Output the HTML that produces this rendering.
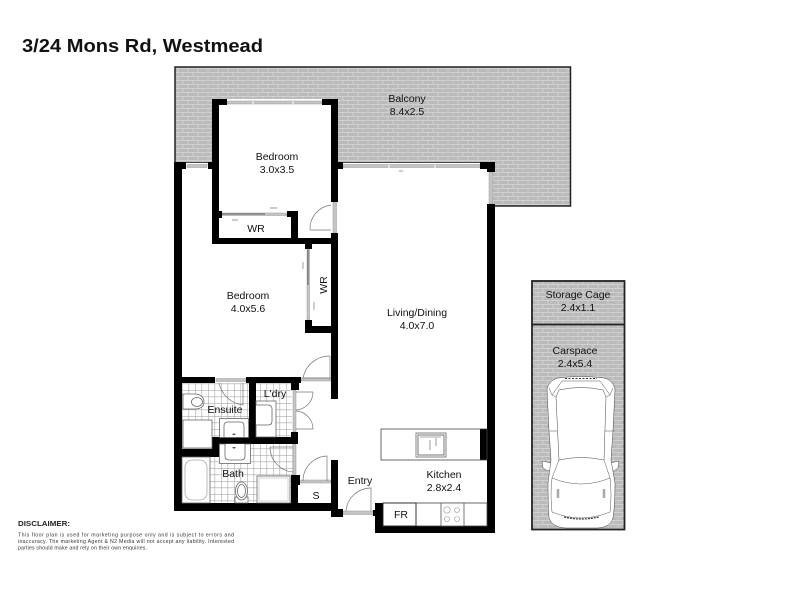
<!DOCTYPE html>
<html><head><meta charset="utf-8"><style>
html,body{margin:0;padding:0;background:#fff}
svg{display:block}
text{font-family:"Liberation Sans",sans-serif;fill:#111;font-size:10.5px;text-anchor:middle}
.d{fill:none;stroke:#777;stroke-width:.7}
.t{fill:#fff;stroke:#666;stroke-width:.8}
.g{fill:#c4c4c4;stroke:#999;stroke-width:.5}
.c{fill:#fff;stroke:#444;stroke-width:.5}
.c2{fill:none;stroke:#555;stroke-width:.5}
.l{text-anchor:start;font-size:5.2px;fill:#333}
</style></head><body>
<svg width="800" height="600" viewBox="0 0 800 600" xmlns="http://www.w3.org/2000/svg">
<defs>
<pattern id="b" width="10" height="8" patternUnits="userSpaceOnUse">
<rect width="10" height="8" fill="#bababa"/>
<path d="M0 .5H10M0 4.5H10M3 0V4M8 4V8" stroke="#d8d8d8" stroke-width=".7"/>
</pattern>
<pattern id="p" width="6.500" height="6.500" patternUnits="userSpaceOnUse">
<rect width="6.500" height="6.500" fill="#fff"/>
<path d="M0 .3H6.500M.3 0V6.500" stroke="#aaa" stroke-width=".6"/>
</pattern>
</defs>
<rect width="800" height="600" fill="#fff"/>
<text x="22" y="52" style="font-size:18.500px;font-weight:bold;text-anchor:start;fill:#111" textLength="241" lengthAdjust="spacingAndGlyphs">3/24 Mons Rd, Westmead</text>

<path d="M175 67H570.500V206H491V163H175Z" fill="url(#b)" stroke="#222" stroke-width="1.500"/>
<rect x="219" y="105" width="112" height="133" fill="#fff"/>
<rect x="182" y="163" width="306" height="6" fill="#fff"/>
<rect x="212" y="99" width="119" height="6" fill="#fff"/>
<rect x="338" y="165" width="150" height="300" fill="#fff"/>

<rect x="532" y="281" width="92.500" height="248.500" fill="url(#b)" stroke="#222" stroke-width="1.800"/>
<path d="M532 324.500H624.500" stroke="#222" stroke-width="1.800"/>

<rect x="182" y="383" width="67" height="66" fill="url(#p)"/>
<rect x="256" y="383" width="36" height="54" fill="url(#p)"/>
<rect x="210" y="444" width="83" height="59" fill="url(#p)"/>

<!-- windows -->
<g class="g">
<rect x="227" y="101" width="95" height="3"/>
<rect x="187" y="164.500" width="20" height="3"/>
<rect x="343" y="164.500" width="137" height="3"/>
<rect x="489" y="172" width="3.500" height="32"/>
<rect x="333" y="202" width="3.500" height="31"/>
<rect x="222" y="213" width="65" height="2.500"/>
<rect x="307" y="249" width="2.500" height="71"/>
<rect x="216" y="378.500" width="30" height="3"/>
<rect x="301" y="378" width="30" height="3"/>
<rect x="293" y="390" width="3" height="42"/>
<rect x="293" y="444" width="3" height="31"/>
<rect x="298" y="480" width="33" height="3"/>
<rect x="343" y="511" width="30" height="3.500"/>
</g>
<path d="M222 214H265" stroke="#444" stroke-width=".8"/>
<path d="M308 250V285" stroke="#444" stroke-width=".8"/>
<path d="M253 101V104M293 101V104M389 164.500V168M435 164.500V168" stroke="#fff" stroke-width="1"/>
<path d="M270 208H277M232 220H238M303 262V269M314 302V310M399 171H403" stroke="#777" stroke-width=".7"/>

<!-- walls -->
<g fill="#000">
<rect x="212" y="99" width="7" height="145"/>
<rect x="212" y="99" width="15" height="6"/>
<rect x="322" y="99" width="16" height="6"/>
<rect x="331" y="99" width="7" height="103"/>
<rect x="331" y="233" width="7" height="166"/>
<rect x="212" y="238" width="126" height="6"/>
<rect x="291" y="211" width="7" height="27"/>
<rect x="287" y="211" width="11" height="6"/>
<rect x="219" y="211" width="3" height="7"/>
<rect x="174" y="162" width="8" height="349"/>
<rect x="174" y="162" width="12" height="7"/>
<rect x="208" y="162" width="4" height="7"/>
<rect x="338" y="162" width="5" height="7"/>
<rect x="480" y="162" width="15" height="7"/>
<rect x="487" y="162" width="8" height="10"/>
<rect x="487" y="204" width="8" height="329"/>
<rect x="305" y="244" width="7" height="5"/>
<rect x="305" y="320" width="7" height="13"/>
<rect x="305" y="326" width="28" height="7"/>
<rect x="174" y="377" width="41" height="6"/>
<rect x="246" y="377" width="55" height="6"/>
<rect x="291" y="377" width="8" height="13"/>
<rect x="249" y="383" width="7" height="54"/>
<rect x="212" y="437" width="86" height="7"/>
<rect x="291" y="432" width="7" height="12"/>
<rect x="212" y="437" width="7" height="20"/>
<rect x="182" y="449" width="37" height="8"/>
<rect x="291" y="475" width="7" height="28"/>
<rect x="291" y="475" width="9" height="10"/>
<rect x="174" y="503" width="164" height="8"/>
<rect x="331" y="460" width="7" height="57"/>
<rect x="331" y="509" width="12" height="8"/>
<rect x="375" y="503" width="8" height="30"/>
<rect x="373" y="510" width="3" height="6"/>
<rect x="375" y="526" width="120" height="7"/>
<rect x="480" y="429" width="7" height="31"/>
</g>

<!-- doors -->
<g class="d">
<path d="M310 230H331M310 230A24 24 0 0 1 331 205"/>
<path d="M303 378H330V356M303 378A27 27 0 0 1 330 356"/>
<path d="M219 383A28 28 0 0 0 243 405V383"/>
<path d="M296 392H313M296 410A18 18 0 0 0 313 392"/>
<path d="M296 429H313M296 411A18 18 0 0 1 313 429"/>
<path d="M270 447H293M270 447A25 25 0 0 0 293 472"/>
<path d="M303 481A25 25 0 0 1 327 456V481"/>
<path d="M346 511A25 25 0 0 1 371 488V511"/>
</g>

<!-- bathroom fixtures -->
<path d="M183 394H195C201 394 204 398 204 402C204 406 201 409 195 409H183Z" class="t"/>
<ellipse cx="197" cy="402" rx="5.500" ry="4.500" class="t"/>
<rect x="183" y="420" width="29" height="28" class="t"/>
<rect x="219.500" y="418.500" width="29" height="19" class="t"/>
<path d="M224 437V426Q224 422 228 422H240Q244 422 244 426V437" class="t"/>
<path d="M234 433l-2 2h4z" fill="#555"/>
<rect x="219.500" y="444" width="31" height="19.500" class="t"/>
<path d="M225 444V456Q225 460 229 460H241Q245 460 245 456V444" class="t"/>
<path d="M234 449l-2-2h4z" fill="#555"/>
<rect x="182" y="457" width="28" height="46" class="t"/>
<rect x="185" y="460" width="22" height="40" rx="7" fill="#fff" stroke="#aaa" stroke-width=".8"/>
<rect x="235" y="497" width="13" height="6" class="t"/>
<ellipse cx="241.500" cy="491" rx="6" ry="9" class="t"/>
<ellipse cx="241.500" cy="491" rx="4" ry="6.500" class="t"/>
<rect x="257" y="476" width="33" height="27" class="t"/>
<rect x="259" y="478" width="29" height="23" fill="#fff" stroke="#aaa" stroke-width=".5"/>
<rect x="256" y="401" width="20" height="36" class="t"/>
<path d="M256 405H268Q272 405 272 409V421Q272 425 268 425H256" class="t"/>

<!-- kitchen -->
<rect x="381" y="429" width="106" height="31" fill="none" stroke="#444" stroke-width=".8"/>
<rect x="416" y="433" width="30" height="24" class="t"/>
<rect x="418" y="435" width="26" height="20" fill="#fff" stroke="#555" stroke-width=".8"/>
<path d="M420 437H441M430 440V450M436 438V446" stroke="#555" stroke-width=".6" fill="none"/>
<rect x="383" y="503" width="104" height="23" fill="#fff" stroke="#444" stroke-width=".8"/>
<rect x="383" y="503" width="33" height="23" fill="#fff" stroke="#222" stroke-width=".9"/>
<rect x="441" y="503" width="23" height="23" fill="#fff" stroke="#555" stroke-width=".8"/>
<g fill="none" stroke="#999" stroke-width=".6">
<circle cx="447" cy="510" r="3.200"/><circle cx="457" cy="510" r="2.500"/><circle cx="447" cy="519" r="2.500"/><circle cx="457" cy="519" r="2.500"/>
</g>

<!-- car -->
<g>
<path d="M542 461L552 463V470L548 471L543 468ZM619 461L610 463V470L614 471L618 468Z" class="c"/>
<path d="M558 378Q549 380 547 389L549 431L551 460L548 483Q548 505 549 518Q552 527 565 528H598Q611 527 613 518Q615 505 615 483L611 460L613 431L615 389Q613 380 604 378Q580 375 558 378Z" class="c"/>
<path d="M552 395L562 381H600L610 395M552 395L549 388M610 395L613 388" class="c2"/>
<path d="M559 390Q581 385 603 390L606 397L604 460Q581 455 559 460L556 397Z" class="c"/>
<path d="M556 397L552 395M606 397L610 395M559 460L552 478Q581 490 610 478L604 460" class="c2"/>
<path d="M552 478Q550 495 552 512Q581 524 610 512Q612 495 610 478M549 431H557M605 431H614" class="c2"/>
<path d="M558 489V498M604 489V498" stroke="#555" stroke-width="2.500" fill="none" opacity=".5"/>
<path d="M564 517Q581 521 599 517" stroke="#333" stroke-width="1.200" stroke-dasharray="2 1" fill="none"/>
<path d="M565 378.500H597" stroke="#333" stroke-width="1" stroke-dasharray="2 1.500" fill="none"/>
</g>

<!-- labels -->
<text x="407" y="102">Balcony</text><text x="407" y="115">8.4x2.5</text>
<text x="277" y="160">Bedroom</text><text x="277" y="173">3.0x3.5</text>
<text x="256" y="232">WR</text>
<text x="248" y="299">Bedroom</text><text x="248" y="312">4.0x5.6</text>
<text transform="translate(327,285) rotate(-90)">WR</text>
<text x="417" y="316">Living/Dining</text><text x="417" y="329">4.0x7.0</text>
<text x="578" y="298">Storage Cage</text><text x="578" y="311">2.4x1.1</text>
<text x="575" y="354">Carspace</text><text x="575" y="367">2.4x5.4</text>
<text x="225" y="413">Ensuite</text>
<text x="275" y="397">L'dry</text>
<text x="233" y="477">Bath</text>
<text x="316" y="499">S</text>
<text x="360" y="484">Entry</text>
<text x="444" y="478">Kitchen</text><text x="444" y="491">2.8x2.4</text>
<text x="401" y="518">FR</text>

<text x="18" y="526" style="font-size:7px;font-weight:bold;text-anchor:start;fill:#222" textLength="52" lengthAdjust="spacingAndGlyphs">DISCLAIMER:</text>
<text class="l" x="18" y="536.500" textLength="216" lengthAdjust="spacing">This floor plan is used for marketing purpose only and is subject to errors and</text>
<text class="l" x="18" y="543" textLength="216" lengthAdjust="spacing">inaccuracy. The marketing Agent &amp; N2 Media will not accept any liability. Interested</text>
<text class="l" x="18" y="549.500" textLength="129" lengthAdjust="spacing">parties should make and rely on their own enquiries.</text>
</svg>
</body></html>
